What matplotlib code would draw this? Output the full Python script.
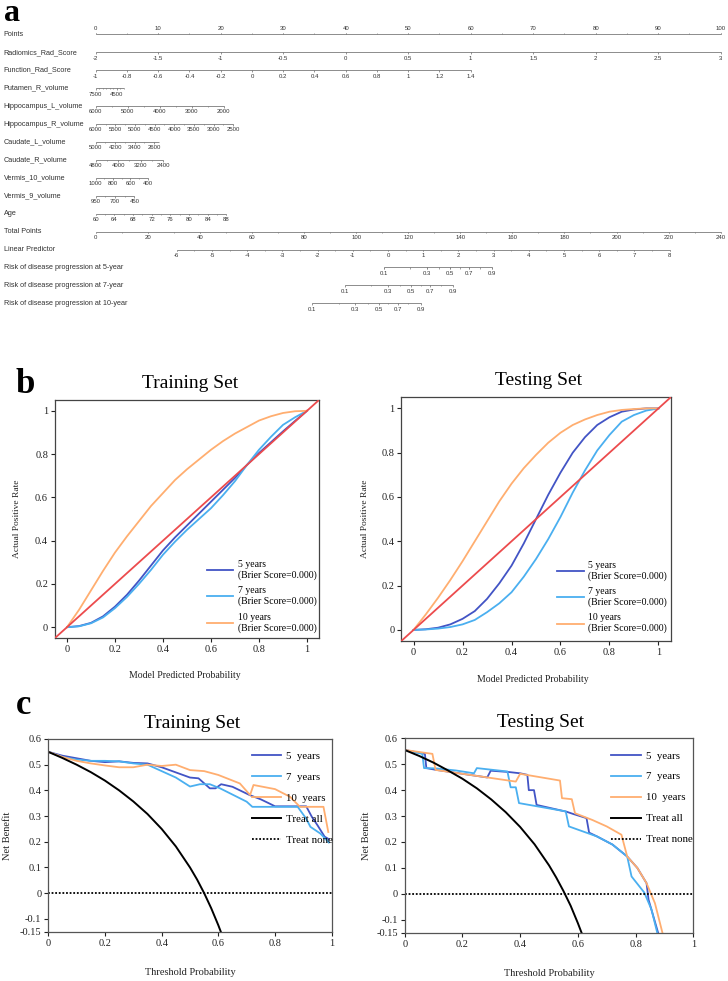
import numpy as np
import matplotlib
matplotlib.use("Agg")
import matplotlib.pyplot as plt

plt.rcParams['font.family'] = ['Liberation Serif', 'DejaVu Serif']
SANS = ['Liberation Sans', 'DejaVu Sans']

# ---------------- panel a: nomogram ----------------
points_labels = [0, 10, 20, 30, 40, 50, 60, 70, 80, 90, 100]

var_names = ["Radiomics_Rad_Score", "Function_Rad_Score", "Putamen_R_volume",
             "Hippocampus_L_volume", "Hippocampus_R_volume", "Caudate_L_volume",
             "Caudate_R_volume", "Vermis_10_volume", "Vermis_9_volume", "Age"]
# value at the two ends of each scale, and the points they score
var_ends = [(-2, 3), (-1, 1.4), (7500, 3500), (6000, 2000), (6000, 2500),
            (5000, 2400), (4800, 2400), (1000, 400), (950, 450), (60, 88)]
var_end_points = [(0, 100), (0, 60), (0, 4.5), (0, 20.5), (0, 22),
                  (0, 10.1), (0, 10.8), (0, 8.3), (0, 6.2), (0, 20.9)]
var_labels = [[-2, -1.5, -1, -0.5, 0, 0.5, 1, 1.5, 2, 2.5, 3],
              [-1, -0.8, -0.6, -0.4, -0.2, 0, 0.2, 0.4, 0.6, 0.8, 1, 1.2, 1.4],
              [7500, 4500],
              [6000, 5000, 4000, 3000, 2000],
              [6000, 5500, 5000, 4500, 4000, 3500, 3000, 2500],
              [5000, 4200, 3400, 2600],
              [4800, 4000, 3200, 2400],
              [1000, 800, 600, 400],
              [950, 700, 450],
              [60, 64, 68, 72, 76, 80, 84, 88]]
var_minor = [0.5, 0.2, 500, 500, 250, 400, 400, 100, 125, 2]

total_labels = [0, 20, 40, 60, 80, 100, 120, 140, 160, 180, 200, 220, 240]
lp_labels = [-6, -5, -4, -3, -2, -1, 0, 1, 2, 3, 4, 5, 6, 7, 8]
lp_total_points = (31.1, 220.4)   # total points at lp = -6 and lp = 8

risk_names = ["Risk of disease progression at 5-year",
              "Risk of disease progression at 7-year",
              "Risk of disease progression at 10-year"]
risk_labels = [0.1, 0.3, 0.5, 0.7, 0.9]
risk_minor = [0.1, 0.2, 0.3, 0.4, 0.5, 0.6, 0.7, 0.8, 0.9]
risk_lp_offset = [2.127, 1.02, 0.10]  # -log(-log S0(t)) for each horizon

# ---------------- panel b: calibration ----------------
cal_x = [0, .05, .1, .15, .2, .25, .3, .35, .4, .45, .5,
         .55, .6, .65, .7, .75, .8, .85, .9, .95, 1.0]
cal_train_5 = [0, .005, .02, .05, .095, .15, .215, .285, .355, .415, .47,
               .525, .58, .635, .69, .75, .805, .855, .905, .953, 1.0]
cal_train_7 = [0, .004, .018, .045, .088, .14, .2, .265, .335, .395, .45,
               .50, .55, .61, .675, .75, .82, .88, .935, .97, 1.0]
cal_train_10 = [0, .08, .17, .26, .345, .42, .49, .56, .62, .68, .73,
                .775, .82, .86, .895, .925, .955, .975, .99, .998, 1.0]
cal_test_5 = [0, .003, .01, .025, .05, .085, .14, .21, .29, .39, .50,
              .61, .71, .80, .87, .925, .96, .985, .995, 1.0, 1.0]
cal_test_7 = [0, .002, .006, .013, .025, .045, .08, .12, .17, .24, .32,
              .41, .51, .62, .72, .81, .88, .94, .97, .99, 1.0]
cal_test_10 = [0, .07, .145, .225, .31, .40, .49, .58, .66, .73, .79,
               .845, .89, .925, .95, .97, .985, .993, .997, 1.0, 1.0]
ideal_line = [-0.05, 1.05]

# ---------------- panel c: decision curves ----------------
dca_tr_x5 = [0, .05, .1, .15, .2, .25, .3, .35, .4, .45, .5, .53, .57, .59, .61,
             .65, .71, .75, .78, .8, .91, .93, .95, .975, .99]
dca_tr_y5 = [.55, .535, .525, .515, .51, .513, .507, .505, .49, .47, .45, .447, .408,
             .408, .424, .414, .382, .365, .349, .338, .338, .297, .264, .22, .21]
dca_tr_x7 = [0, .05, .1, .15, .2, .25, .3, .35, .4, .45, .5, .535, .57, .606, .653,
             .70, .72, .88, .91, .925, .96, .99]
dca_tr_y7 = [.55, .53, .52, .515, .515, .513, .505, .50, .475, .45, .415, .424, .424,
             .408, .382, .356, .336, .336, .29, .258, .232, .197]
dca_tr_x10 = [0, .05, .1, .15, .2, .25, .3, .35, .4, .45, .5, .55, .6, .676, .712,
              .724, .776, .80, .853, .888, .971, .988]
dca_tr_y10 = [.55, .53, .515, .505, .497, .49, .49, .50, .495, .50, .479, .475, .46,
              .427, .382, .421, .41, .405, .375, .336, .336, .238]
dca_tr_all_x = [0, .05, .1, .15, .2, .25, .3, .35, .4, .45, .5, .525, .55, .575, .6, .61]
dca_tr_all_y = [.55, .526, .50, .471, .438, .40, .357, .308, .25, .182, .10, .053,
                0, -.059, -.125, -.154]

dca_te_x5 = [0, .07, .075, .11, .2, .286, .298, .36, .40, .425, .43, .448, .457,
             .56, .584, .63, .639, .667, .72, .771, .806, .838, .845, .878]
dca_te_y5 = [.555, .54, .485, .478, .463, .449, .475, .47, .465, .459, .40, .40, .343,
             .317, .308, .292, .236, .221, .19, .144, .10, .041, -.023, -.15]
dca_te_x7 = [0, .061, .067, .107, .177, .24, .25, .356, .367, .385, .396, .558, .569,
             .667, .72, .771, .786, .83, .855, .875]
dca_te_y7 = [.555, .54, .485, .484, .476, .465, .485, .472, .411, .411, .35, .318, .26,
             .221, .19, .144, .067, .005, -.06, -.15]
dca_te_x10 = [0, .096, .107, .385, .40, .538, .545, .579, .59, .65, .70, .751, .771,
              .806, .838, .867, .893]
dca_te_y10 = [.555, .54, .478, .433, .463, .437, .369, .365, .311, .285, .26, .228,
              .144, .10, .041, -.036, -.15]
dca_te_all_x = [0, .05, .1, .15, .2, .25, .3, .35, .4, .45, .5, .525, .55, .575, .6, .62]
dca_te_all_y = [.555, .532, .506, .476, .444, .407, .364, .315, .258, .191, .11, .063,
                .011, -.046, -.113, -.171]

C5, C7, C10, CRED = '#4254C5', '#4AAFF0', '#FFAE70', '#EC4B4D'
year_labels = ["5 years", "7 years", "10 years"]

fig = plt.figure(figsize=(7.28, 9.81), dpi=100)


def fx(px):
    return px / 728.0


def fy(px):
    return 1 - px / 981.0


# ---- nomogram ----
axn = fig.add_axes([0, fy(315), 1, (315 - 20) / 981.0])
axn.set_xlim(-95.7 / 6.25, (728 - 95.7) / 6.25)
axn.set_ylim(15.65, -0.8)
axn.axis('off')

LCOL, TCOL = '#7a7a7a', '#333333'


def steps(a, b, step):
    n = int(round(abs(b - a) / step))
    sgn = 1 if b >= a else -1
    return a + sgn * step * np.arange(n + 1)


def nomo_row(row, name, x0, x1, minor_x, lab_x, labs, above=False):
    axn.text(-14.7, row, name, ha='left', va='center', fontsize=5.2,
             color=TCOL, family=SANS)
    axn.plot([x0, x1], [row, row], color=LCOL, lw=0.6, solid_capstyle='butt')
    d = -0.1 if above else 0.1
    axn.vlines(minor_x, row, row + d * 0.6, color=LCOL, lw=0.5)
    axn.vlines(lab_x, row, row + d, color=LCOL, lw=0.5)
    ty = row - 0.32 if above else row + 0.33
    for x, t in zip(lab_x, labs):
        axn.text(x, ty, t, ha='center', va='center', fontsize=4.3,
                 color=TCOL, family=SANS)


# points row
pl = np.array(points_labels, float)
nomo_row(0, "Points", pl[0], pl[-1], steps(0, 100, 5), pl,
         ['%g' % v for v in pl], above=True)

for i, name in enumerate(var_names):
    ends, pts = var_ends[i], var_end_points[i]

    def m(v, ends=ends, pts=pts):
        return pts[0] + (np.asarray(v, float) - ends[0]) * (pts[1] - pts[0]) / (ends[1] - ends[0])

    mn = steps(ends[0], ends[1], var_minor[i])
    nomo_row(i + 1, name, m(ends[0]), m(ends[1]), m(mn), m(var_labels[i]),
             ['%g' % v for v in var_labels[i]])

tp_scale = points_labels[-1] / total_labels[-1]
tl = np.array(total_labels, float)
nomo_row(11, "Total Points", 0, tl[-1] * tp_scale, steps(0, 240, 10) * tp_scale,
         tl * tp_scale, ['%g' % v for v in tl])


def lp_to_x(lp):
    lp = np.asarray(lp, float)
    tp = lp_total_points[0] + (lp - lp_labels[0]) * (lp_total_points[1] - lp_total_points[0]) / (lp_labels[-1] - lp_labels[0])
    return tp * tp_scale


nomo_row(12, "Linear Predictor", lp_to_x(lp_labels[0]), lp_to_x(lp_labels[-1]),
         lp_to_x(steps(-6, 8, 0.5)), lp_to_x(lp_labels), ['%g' % v for v in lp_labels])

for k, name in enumerate(risk_names):
    def r2x(r, k=k):
        r = np.asarray(r, float)
        return lp_to_x(np.log(-np.log(1 - r)) + risk_lp_offset[k])
    nomo_row(13 + k, name, r2x(risk_minor[0]), r2x(risk_minor[-1]), r2x(risk_minor),
             r2x(risk_labels), ['%g' % v for v in risk_labels])

# ---- calibration plots ----
cal_boxes = [(55, 319, 400, 638), (401.3, 670.7, 397.3, 641)]
cal_sets = [(cal_train_5, cal_train_7, cal_train_10), (cal_test_5, cal_test_7, cal_test_10)]
cal_titles = ["Training Set", "Testing Set"]
cal_ylab_x = [-0.144, -0.135]
cal_leg_anchor = [(0.575, 0.328), (0.579, 0.33)]
ticks01 = [0, 0.2, 0.4, 0.6, 0.8, 1]
tick01_lab = ['0', '0.2', '0.4', '0.6', '0.8', '1']

for j in range(2):
    l, r, t, b = cal_boxes[j]
    ax = fig.add_axes([fx(l), fy(b), fx(r - l), (b - t) / 981.0])
    ax.plot(ideal_line, ideal_line, color=CRED, lw=1.3, zorder=4)
    for ys, c, lab in zip(cal_sets[j], (C5, C7, C10), year_labels):
        ax.plot(cal_x, ys, color=c, lw=1.3, label=lab + "\n(Brier Score=0.000)")
    ax.set_xlim(-0.05, 1.05)
    ax.set_ylim(-0.05, 1.05)
    ax.set_xticks(ticks01, tick01_lab)
    ax.set_yticks(ticks01, tick01_lab)
    ax.tick_params(direction='out', length=3, width=0.8, labelsize=7.5,
                   colors='#222222', pad=2)
    for s in ax.spines.values():
        s.set_color('#444444')
        s.set_linewidth(0.9)
    ax.text(0.51, 1.068, cal_titles[j], transform=ax.transAxes, ha='center',
            va='center', fontsize=14)
    ax.text(cal_ylab_x[j], 0.5, "Actual Positive Rate", transform=ax.transAxes,
            rotation=90, ha='center', va='center', fontsize=6.8, color='#222222')
    ax.text(0.49, -0.158, "Model Predicted Probability", transform=ax.transAxes,
            ha='center', va='center', fontsize=7, color='#222222')
    ax.legend(loc='upper left', bbox_to_anchor=cal_leg_anchor[j], frameon=False,
              fontsize=7, handlelength=2.7, handletextpad=0.5, labelspacing=0.65,
              borderpad=0, borderaxespad=0)

# ---- decision curves ----
dca_boxes = [(48.3, 331.7, 739, 931.7), (404.7, 693.3, 738.3, 932.7)]
dca_sets = [((dca_tr_x5, dca_tr_y5), (dca_tr_x7, dca_tr_y7), (dca_tr_x10, dca_tr_y10),
             (dca_tr_all_x, dca_tr_all_y)),
            ((dca_te_x5, dca_te_y5), (dca_te_x7, dca_te_y7), (dca_te_x10, dca_te_y10),
             (dca_te_all_x, dca_te_all_y))]
dca_title_x = [0.506, 0.471]
dca_ylab_x = [-0.144, -0.134]
dca_leg_anchor = [(0.718, 0.935), (0.716, 0.935)]
dca_yticks = [0.6, 0.5, 0.4, 0.3, 0.2, 0.1, 0, -0.1, -0.15]
dca_ylabs = ['0.6', '0.5', '0.4', '0.3', '0.2', '0.1', '0', '-0.1', '-0.15']

for j in range(2):
    l, r, t, b = dca_boxes[j]
    ax = fig.add_axes([fx(l), fy(b), fx(r - l), (b - t) / 981.0])
    curves = dca_sets[j]
    for (xs, ys), c, lab in zip(curves[:3], (C5, C7, C10), year_labels):
        ax.plot(xs, ys, color=c, lw=1.3, label=lab.replace(' ', '  '))
    ax.plot(curves[3][0], curves[3][1], color='black', lw=1.4, label='Treat all')
    ax.plot([0, 1], [0, 0], color='black', lw=1.3, ls=(0, (1, 1)), label='Treat none')
    ax.set_xlim(0, 1)
    ax.set_ylim(-0.15, 0.6)
    ax.set_xticks(ticks01, tick01_lab)
    ax.set_yticks(dca_yticks, dca_ylabs)
    ax.tick_params(direction='out', length=3, width=0.8, labelsize=7.5,
                   colors='#222222', pad=2)
    for s in ax.spines.values():
        s.set_color('#555555')
        s.set_linewidth(0.9)
    ax.text(dca_title_x[j], 1.082, "Training Set" if j == 0 else "Testing Set",
            transform=ax.transAxes, ha='center', va='center', fontsize=14)
    ax.text(dca_ylab_x[j], 0.5, "Net Benefit", transform=ax.transAxes, rotation=90,
            ha='center', va='center', fontsize=7.5, color='#222222')
    ax.text(0.5, -0.21, "Threshold Probability", transform=ax.transAxes,
            ha='center', va='center', fontsize=7.5, color='#222222')
    ax.legend(loc='upper left', bbox_to_anchor=dca_leg_anchor[j], frameon=False,
              fontsize=7.8, handlelength=2.7, handletextpad=0.5, labelspacing=1.05,
              borderpad=0, borderaxespad=0)

# panel letters
for letter, (px, py, fs) in zip("abc", [(4, 21, 23), (15, 393, 25), (16, 714, 25)]):
    fig.text(fx(px), fy(py), letter, fontsize=fs, fontweight='bold',
             ha='left', va='baseline')

fig.savefig('out.png', dpi=100)
